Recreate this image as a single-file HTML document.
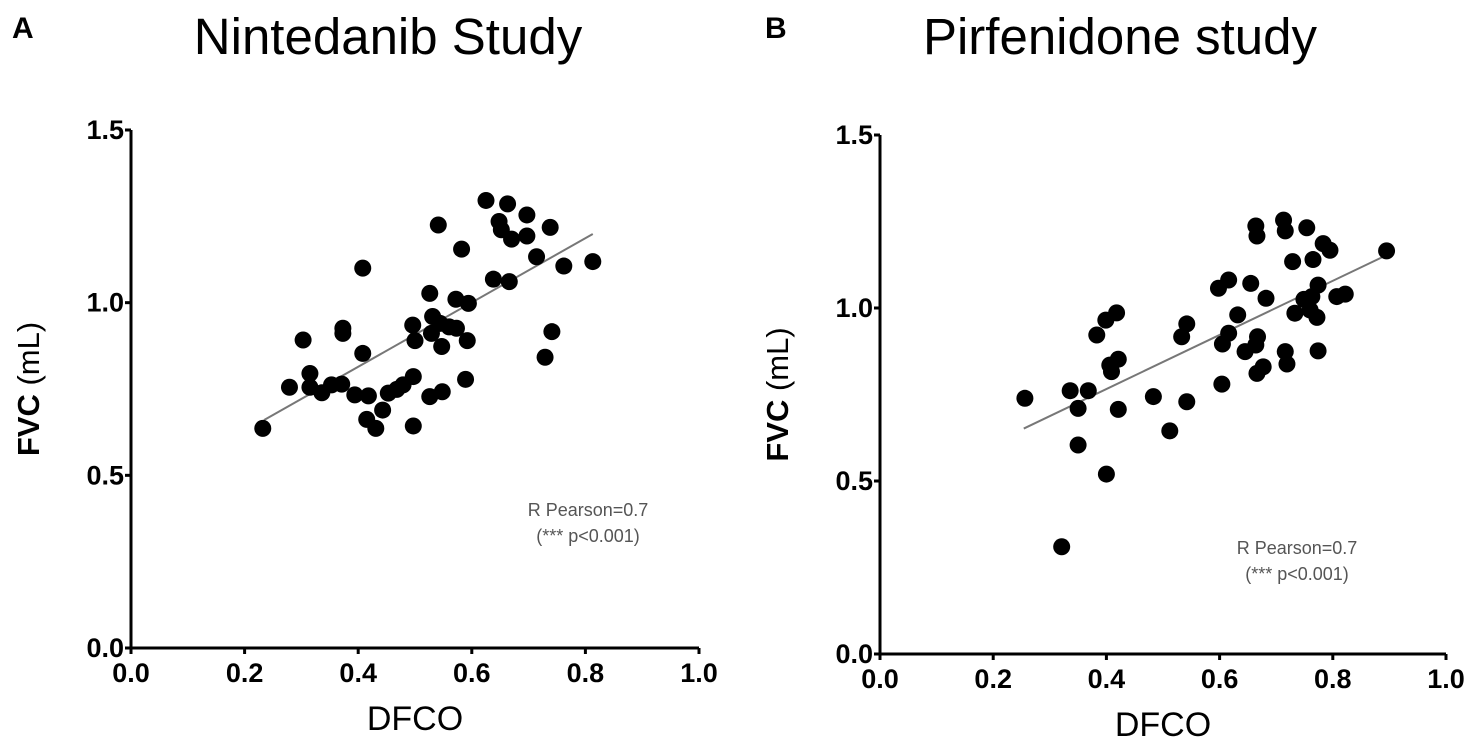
<!DOCTYPE html>
<html><head><meta charset="utf-8"><style>
html,body{margin:0;padding:0;background:#fff;}
svg{display:block;font-family:"Liberation Sans",Arial,sans-serif;}
</style></head><body>
<svg id="c" width="1480" height="749" viewBox="0 0 1480 749"></svg>
<script>
const ticksX=[0.0,0.2,0.4,0.6,0.8,1.0];
const ticksY=[0.0,0.5,1.0,1.5];
const aX=[.232,.279,.303,.315,.315,.336,.353,.371,.373,.373,.394,.408,.408,.418,.415,.431,.443,.453,.468,.479,.497,.497,.496,.500,.526,.526,.531,.529,.541,.548,.547,.544,.560,.572,.573,.582,.594,.592,.589,.625,.638,.648,.652,.663,.666,.670,.697,.697,.714,.738,.741,.729,.762,.813];
const aY=[.636,.755,.892,.795,.755,.739,.762,.764,.926,.911,.733,1.100,.853,.730,.662,.636,.689,.738,.749,.762,.786,.643,.935,.890,1.027,.728,.960,.911,1.225,.742,.873,.940,.930,1.010,.926,1.155,.998,.890,.778,1.296,1.068,1.235,1.211,1.286,1.061,1.184,1.254,1.193,1.133,1.218,.916,.842,1.106,1.119];
const aFit=[0.234,0.813,0.931,0.442];
const bX=[.256,.336,.350,.368,.350,.400,.321,.383,.399,.418,.406,.421,.409,.421,.483,.512,.533,.542,.542,.604,.598,.616,.605,.616,.632,.645,.655,.667,.664,.666,.677,.664,.666,.682,.713,.716,.716,.719,.729,.754,.765,.733,.749,.763,.774,.772,.774,.783,.795,.807,.822,.895,.760];
const bY=[.739,.761,.710,.761,.604,.520,.310,.922,.965,.986,.835,.852,.816,.707,.744,.645,.917,.954,.729,.780,1.057,1.081,.896,.927,.980,.874,1.071,.917,.893,.811,.830,1.237,1.208,1.028,1.254,1.223,.874,.838,1.134,1.232,1.140,.985,1.025,1.033,1.066,.973,.876,1.186,1.167,1.033,1.040,1.165,.994];
const bFit=[0.254,0.895,0.782,0.453];

const NS="http://www.w3.org/2000/svg";
const svg=document.getElementById('c');
function mk(tag,attrs,parent,text){const e=document.createElementNS(NS,tag);for(const k in attrs)e.setAttribute(k,attrs[k]);if(text!==undefined)e.textContent=text;(parent||svg).appendChild(e);return e;}

function panel(id,x0,x1,y0,y15,xs,ys,fit,letter,lx,title,tx,annX,annY){
  const g=mk('g',{});
  
  
  const sx=v=>x0+v*(x1-x0), sy=v=>y0-v/1.5*(y0-y15);
  const L=mk('text',{x:lx,y:38,'font-size':30,'font-weight':'bold'},g,letter);
  
  
  const T=mk('text',{x:tx,y:54,'font-size':51,'text-anchor':'middle'},g,title);
  
  
  const ax=mk('path',{d:`M${x0} ${y15}H${x0-6}M${x0} ${y15}V${y0}H${x1}`,stroke:'#000','stroke-width':3,fill:'none'},g);
  
  
  ticksY.forEach(v=>{
    mk('line',{x1:x0-6,x2:x0,y1:sy(v),y2:sy(v),stroke:'#000','stroke-width':3},g);
    const t=mk('text',{x:x0-7,y:sy(v)+9,'font-size':27,'font-weight':'bold','text-anchor':'end'},g,v.toFixed(1));
    
    
  });
  ticksX.forEach(v=>{
    mk('line',{x1:sx(v),x2:sx(v),y1:y0,y2:y0+6,stroke:'#000','stroke-width':3},g);
    const t=mk('text',{x:sx(v),y:y0+34,'font-size':27,'font-weight':'bold','text-anchor':'middle'},g,v.toFixed(1));
    
    
  });
  const xt=mk('text',{x:(x0+x1)/2,y:y0+82,'font-size':34,'text-anchor':'middle'},g,'DFCO');
  
  
  const yt=mk('text',{transform:`translate(${x0-92},${(y0+y15)/2}) rotate(-90)`,'font-size':31,'text-anchor':'middle'},g);
  
  
  mk('tspan',{'font-weight':'bold'},yt,'FVC');
  mk('tspan',{},yt,' (mL)');
  const fl=mk('line',{x1:sx(fit[0]),y1:sy(fit[3]+fit[2]*fit[0]),x2:sx(fit[1]),y2:sy(fit[3]+fit[2]*fit[1]),stroke:'#777','stroke-width':2},g);
  
  
  xs.forEach((v,i)=>{
    const c=mk('circle',{cx:sx(v),cy:sy(ys[i]),r:8.5,fill:'#000'},g);
    
    
  });
  const a1=mk('text',{x:annX,y:annY,'font-size':18,fill:'#555','text-anchor':'middle'},g,'R Pearson=0.7');
  
  
  const a2=mk('text',{x:annX,y:annY+26,'font-size':18,fill:'#555','text-anchor':'middle'},g,'(*** p<0.001)');
  
  
}
panel('a',131,699,648,130,aX,aY,aFit,'A',12,'Nintedanib Study',388,588,516);
panel('b',880,1446,654,135,bX,bY,bFit,'B',765,'Pirfenidone study',1120,1297,554);
</script>
</body></html>
